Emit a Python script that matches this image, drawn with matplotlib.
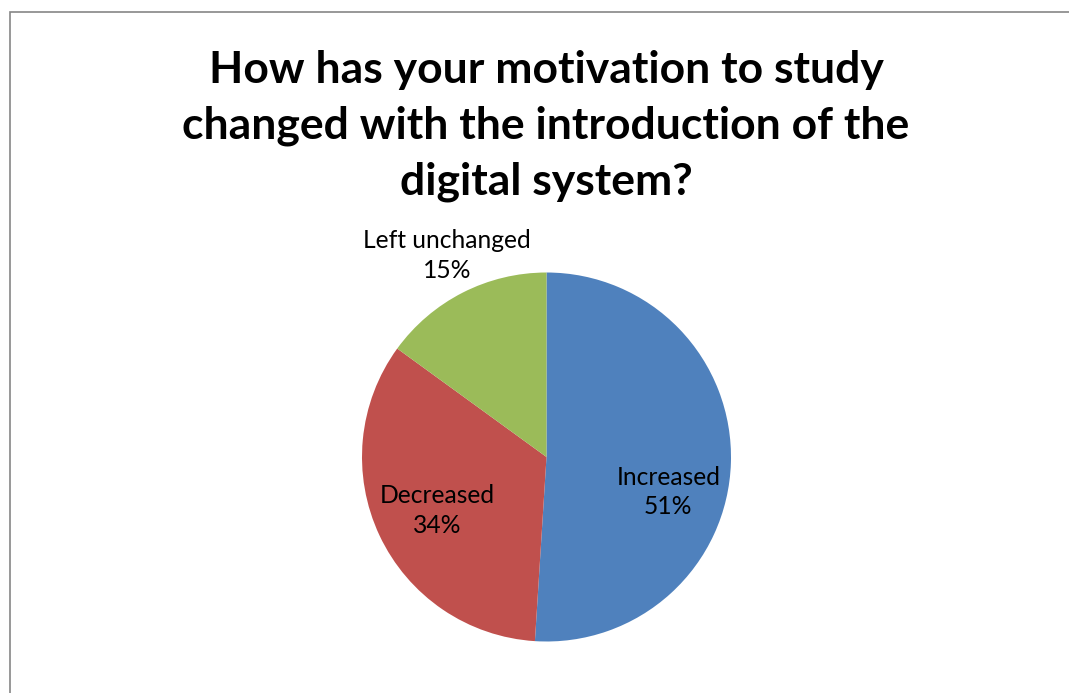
import matplotlib
matplotlib.use("Agg")
import matplotlib.pyplot as plt
from matplotlib.patches import Rectangle

categories = ["Increased", "Decreased", "Left unchanged"]
values = [51, 34, 15]
colors = ["#4F81BD", "#C0504D", "#9BBB59"]
title = "How has your motivation to study\nchanged with the introduction of the\ndigital system?"

W, H = 1069, 693
fig = plt.figure(figsize=(W / 100, H / 100), dpi=100)
fig.patch.set_facecolor("white")

# chart border (left and top visible)
fig.add_artist(Rectangle((9.5 / W, -0.1), 1.2, (H - 12.5) / H + 0.1,
                         transform=fig.transFigure, fill=False,
                         edgecolor="#868686", linewidth=1.2))

cx, cy, r = 546.5, 457, 184.5
ax = fig.add_axes([(cx - r) / W, (H - cy - r) / H, 2 * r / W, 2 * r / H])
ax.pie(values, colors=colors, startangle=90, counterclock=False,
       radius=1, wedgeprops=dict(linewidth=0))
ax.set_xlim(-1, 1)
ax.set_ylim(-1, 1)
ax.set_aspect("equal")
ax.axis("off")

label_pos = [(0.66, -0.19), (-0.59, -0.29), (-0.54, 1.09)]
for cat, v, (x, y) in zip(categories, values, label_pos):
    ax.text(x, y, f"{cat}\n{v}%", ha="center", va="center",
            fontsize=17.7, family="Lato", color="black",
            linespacing=1.36, clip_on=False)

fig.text(546 / W, 1 - 126 / H, title, ha="center", va="center",
         fontsize=32, fontweight="bold", family="Lato",
         linespacing=1.46)

fig.savefig("out.png", dpi=100)
